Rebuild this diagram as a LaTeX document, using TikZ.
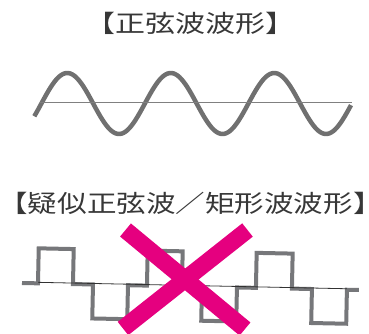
\documentclass[tikz,border=0pt]{standalone}
\usepackage{fontspec}
\usepackage{tikz}
\newfontfamily\jpfont{Noto Sans CJK JP}
\definecolor{sinegray}{RGB}{112,112,112}
\definecolor{axisgray}{RGB}{128,128,128}
\definecolor{wavegray}{RGB}{118,119,122}
\definecolor{basedark}{RGB}{50,50,50}
\definecolor{crossmagenta}{RGB}{229,0,127}
\definecolor{titlegray}{RGB}{55,55,55}

\begin{document}
\begin{tikzpicture}[x=1bp, y=1bp,
  every node/.style={inner sep=0pt, outer sep=0pt},
  title/.style={font=\jpfont\fontsize{24bp}{28bp}\selectfont, text=titlegray, xscale=1.25},
  sinewave/.style={sinegray, line width=4.5bp},
  axisline/.style={axisgray, line width=1.2bp},
  squarewave/.style={wavegray, line width=4bp, line join=miter},
  baseline/.style={basedark, line width=0.8bp},
  cross/.style={crossmagenta, line width=17bp, line cap=butt}]
\useasboundingbox (0,0) rectangle (369,334);

\node[title] (sinetitle) at (190.5,310.5) {\kern-0.45em【正弦波波形】\kern-0.45em};
\draw[sinewave] plot[domain=34.3:351, samples=160, smooth] (\x,{230.5+30.5*sin((\x-41.4)*3.4783)});
\draw[axisline] (40,231.3) -- (352,231.3);

\node[title, xscale=0.985] (squaretitle) at (190.5,131) {\kern-0.45em【疑似正弦波／矩形波波形】\kern-0.45em};
\begin{scope}[shift={(22,51)}, rotate=-1.19]
\draw[squarewave] (0,0) -- (16,0) -- (16,35) -- (51,35) -- (51,0) -- (71,0)
  -- (71,-34) -- (106,-34) -- (106,0) -- (125,0) -- (125,35) -- (160,35)
  -- (160,0) -- (180,0) -- (180,-34) -- (215,-34) -- (215,0) -- (234,0)
  -- (234,35) -- (270,35) -- (270,0) -- (290,0) -- (290,-34) -- (325,-34)
  -- (325,0) -- (337,0);
\draw[baseline] (16,1) -- (325,1);
\end{scope}

\coordinate (crossnw) at (125.5,104);
\coordinate (crossse) at (245,5);
\coordinate (crossne) at (247.5,104);
\coordinate (crosssw) at (123,5.5);
\draw[cross] (crossnw) -- (crossse);
\draw[cross] (crossne) -- (crosssw);
\end{tikzpicture}
\end{document}
